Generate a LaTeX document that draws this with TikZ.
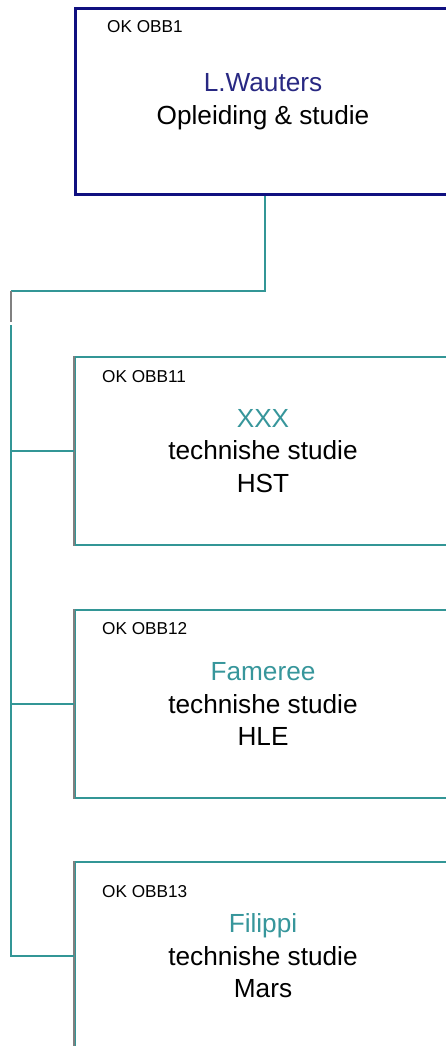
\documentclass[tikz,border=0pt]{standalone}
\usepackage{fontspec}
\setmainfont{Liberation Sans}
\definecolor{navyline}{RGB}{16,16,128}
\definecolor{navytext}{RGB}{40,40,130}
\definecolor{tealline}{RGB}{51,150,150}
\definecolor{tealtext}{RGB}{55,150,155}
\definecolor{greyline}{RGB}{128,128,128}
\tikzset{
  topbox/.style={draw=navyline, line width=3pt, minimum width=376pt, minimum height=185.5pt,
    align=center, inner sep=0pt, font=\fontsize{26.2}{32.5}\selectfont},
  childbox/.style={draw=tealline, line width=2pt, minimum width=376pt, minimum height=188pt,
    align=center, inner sep=0pt, font=\fontsize{26.2}{32.5}\selectfont},
  idlabel/.style={anchor=west, inner sep=0pt, font=\fontsize{17.2}{19}\selectfont},
  conn/.style={draw=tealline, line width=2pt},
  stub/.style={draw=greyline, line width=2pt},
  leftedge/.style={draw=greyline, line width=1.6pt}
}
\begin{document}
\begin{tikzpicture}[x=1pt,y=-1pt]
\useasboundingbox (0,0) rectangle (446,1046);
\node[topbox] (top) at (263,101.75) {{\color{navytext}L.Wauters}\\Opleiding \& studie};
\node[idlabel] (l0) at (107,27) {OK OBB1};
\node[childbox] (b1) at (263,451) {{\color{tealtext}XXX}\\technishe studie\\HST};
\node[childbox] (b2) at (263,704) {{\color{tealtext}Fameree}\\technishe studie\\HLE};
\node[childbox] (b3) at (263,956) {{\color{tealtext}Filippi}\\technishe studie\\Mars};
\draw[leftedge] (b1.north west) -- (b1.south west);
\draw[leftedge] (b2.north west) -- (b2.south west);
\draw[leftedge] (b3.north west) -- (b3.south west);
\node[idlabel] (l1) at (102,377) {OK OBB11};
\node[idlabel] (l2) at (102,629) {OK OBB12};
\node[idlabel] (l3) at (102,892) {OK OBB13};
\coordinate (c1) at (11,291);
\coordinate (c2) at (11,322);
\coordinate (c3) at (11,325);
\draw[conn] ([xshift=2pt]top.south) |- (c1);
\draw[stub] (c1) -- (c2);
\draw[conn] (c3) |- (b3.west);
\draw[conn] (c3 |- b1.west) -- (b1.west);
\draw[conn] (c3 |- b2.west) -- (b2.west);
\end{tikzpicture}
\end{document}
